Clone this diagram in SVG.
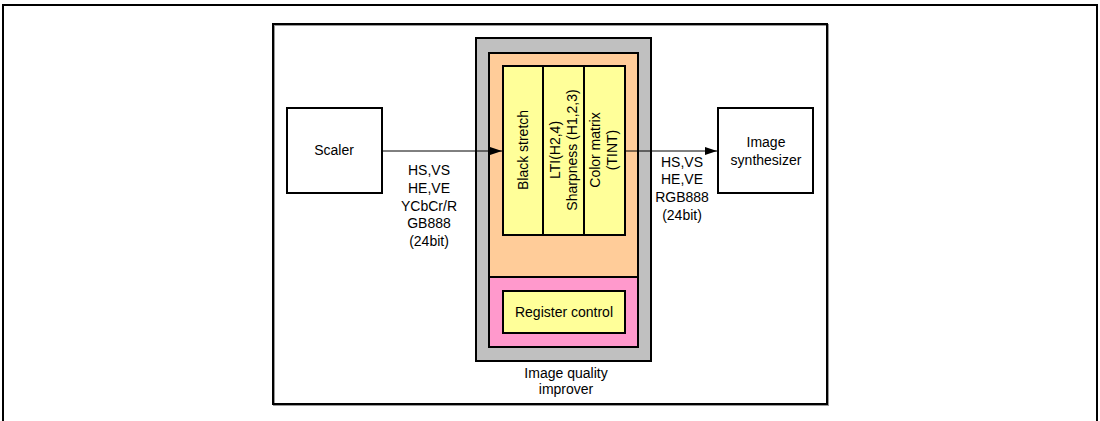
<svg xmlns="http://www.w3.org/2000/svg" width="1100" height="421" viewBox="0 0 1100 421">
<style>
text{font-family:"Liberation Sans",Arial,sans-serif;font-size:14px;fill:#000;text-anchor:middle}
.box{fill:#fff;stroke:#000;stroke-width:2}
.yel{fill:#ffff99;stroke:#000;stroke-width:2}
.conn{stroke:#000;stroke-width:1;fill:none}
</style>
<defs>
<marker id="arr" markerWidth="12" markerHeight="8" refX="12" refY="4" orient="auto" markerUnits="userSpaceOnUse">
<path d="M0,0 L12,4 L0,8 Z" fill="#000"/>
</marker>
</defs>
<rect width="1100" height="421" fill="#fff"/>
<g id="outer-frame">
<path d="M3,430 V5 H1097 V430" fill="none" stroke="#000" stroke-width="2"/>
</g>
<g id="frame">
<rect x="274" y="25" width="554" height="380" fill="none" stroke="#999" stroke-width="2"/>
<rect x="273" y="24" width="554" height="380" fill="none" stroke="#000" stroke-width="2"/>
</g>
<g id="scaler">
<rect class="box" x="287" y="108" width="95" height="85"/>
<text x="334" y="155">Scaler</text>
</g>
<g id="image-synthesizer">
<rect class="box" x="718" y="108" width="95" height="85"/>
<text x="766" y="147">Image</text>
<text x="766" y="165">synthesizer</text>
</g>
<g id="image-quality-improver">
<rect x="476" y="38" width="175" height="323" fill="#c0c0c0" stroke="#000" stroke-width="2"/>
<rect x="489" y="53" width="149" height="224" fill="#ffcc99" stroke="#000" stroke-width="2"/>
<rect x="489" y="277" width="149" height="70" fill="#ff99cc" stroke="#000" stroke-width="2"/>
<text x="566" y="378">Image quality</text>
<text x="566" y="394">improver</text>
</g>
<g id="black-stretch">
<rect class="yel" x="503" y="66" width="40" height="169"/>
<text transform="translate(528,150) rotate(-90)">Black stretch</text>
</g>
<g id="lti-sharpness">
<rect class="yel" x="543" y="66" width="41" height="169"/>
<text transform="translate(560,150) rotate(-90)">LTI(H2,4)</text>
<text transform="translate(577,150) rotate(-90)">Sharpness (H1,2,3)</text>
</g>
<g id="color-matrix">
<rect class="yel" x="584" y="66" width="41" height="169"/>
<text transform="translate(600,150) rotate(-90)">Color matrix</text>
<text transform="translate(617,150) rotate(-90)">(TINT)</text>
</g>
<g id="register-control">
<rect class="yel" x="503" y="291" width="122" height="42"/>
<text x="564" y="317">Register control</text>
</g>
<g id="connectors">
<line class="conn" x1="382" y1="151" x2="502" y2="151" marker-end="url(#arr)"/>
<line class="conn" x1="625" y1="151" x2="717" y2="151" marker-end="url(#arr)"/>
<text x="429" y="175">HS,VS</text>
<text x="429" y="193">HE,VE</text>
<text x="429" y="211">YCbCr/R</text>
<text x="429" y="228">GB888</text>
<text x="429" y="246">(24bit)</text>
<text x="682" y="167">HS,VS</text>
<text x="682" y="184">HE,VE</text>
<text x="682" y="202">RGB888</text>
<text x="682" y="220">(24bit)</text>
</g>
</svg>
